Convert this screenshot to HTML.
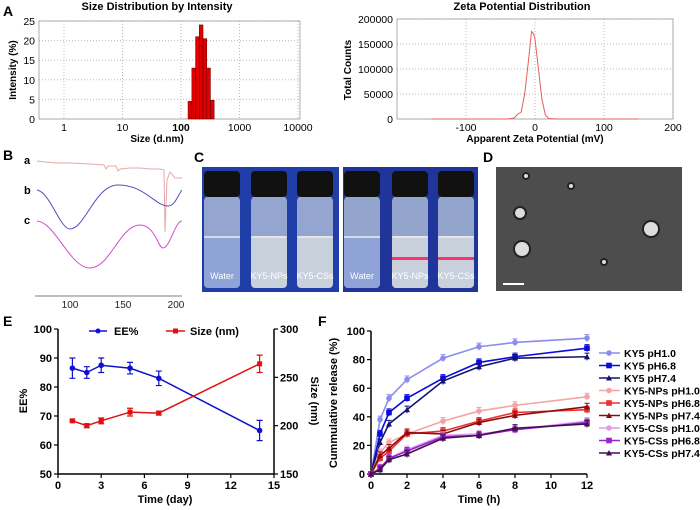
<!DOCTYPE html>
<html><head><meta charset="utf-8"><style>
body{margin:0;background:#fff}
svg{display:block;font-family:"Liberation Sans",Arial,sans-serif}
.b{font-weight:bold}
</style></head><body>
<svg id="fig" width="700" height="510" viewBox="0 0 700 510" xmlns="http://www.w3.org/2000/svg">
<g>
<text x="3" y="16" class="b" font-size="14">A</text>
<text x="157" y="10" class="b" font-size="11" text-anchor="middle">Size Distribution by Intensity</text>
<g id="sizeGrid"></g>
<rect x="39" y="21" width="261" height="98" fill="none" stroke="#999" stroke-width="0.8"/>
<g id="sizeBars"></g>
<text x="157" y="142" class="b" font-size="10" text-anchor="middle">Size (d.nm)</text>
<text transform="translate(16,70) rotate(-90)" class="b" font-size="10" text-anchor="middle">Intensity (%)</text>
</g>
<g>
<text x="522" y="10" class="b" font-size="11" text-anchor="middle">Zeta Potential Distribution</text>
<g id="zetaGrid"></g>
<rect x="397" y="19" width="276" height="100" fill="none" stroke="#999" stroke-width="0.8"/>
<path id="zetaLine" fill="none" stroke="#e06060" stroke-width="1"/>
<text x="535" y="142" class="b" font-size="10" text-anchor="middle">Apparent Zeta Potential (mV)</text>
<text transform="translate(351,70) rotate(-90)" class="b" font-size="10" text-anchor="middle">Total Counts</text>
</g>
<g>
<text x="3" y="160" class="b" font-size="14">B</text>
<text x="24" y="164" class="b" font-size="11">a</text>
<text x="24" y="194" class="b" font-size="11">b</text>
<text x="24" y="224" class="b" font-size="11">c</text>
<path d="M37,161 L55,163 L70,163 L90,164 L104,165 L106,169 L108,166 L116,166 L118,171 L120,169 L130,168 L140,168 L150,169 L160,169 L164,170 L165,232 L167,180 L170,172 L175,178 L182,178" fill="none" stroke="#e8a8a8" stroke-width="1"/>
<path d="M37,190 C50,192 60,229 70,229 C85,229 95,185 118,185 C145,185 155,206 168,206 C175,206 178,195 182,190" fill="none" stroke="#5050c0" stroke-width="1"/>
<path d="M37,221 C55,222 70,268 90,268 C110,268 120,225 140,225 C155,225 158,248 163,248 C170,248 175,221 182,221" fill="none" stroke="#d050d0" stroke-width="1"/>
<line x1="35" y1="296" x2="182" y2="296" stroke="#999" stroke-width="1.2"/>
<g font-size="10" text-anchor="middle" fill="#222">
<text x="70" y="308">100</text><text x="123" y="308">150</text><text x="176" y="308">200</text></g>
</g>
<g>
<text x="194" y="162" class="b" font-size="14">C</text>
<rect x="202" y="167" width="137" height="125" fill="#1f3ea8"/>
<rect x="343" y="167" width="135" height="125" fill="#20359a"/>
<g id="vials"></g>
</g>
<g>
<text x="483" y="162" class="b" font-size="14">D</text>
<rect x="496" y="167" width="186" height="124" fill="#4d4d4d"/>
<g fill="#ddd" stroke="#222" stroke-width="2">
<circle cx="520" cy="213" r="6"/><circle cx="522" cy="249" r="8"/><circle cx="651" cy="229" r="8"/>
<circle cx="526" cy="176" r="3"/><circle cx="571" cy="186" r="3"/><circle cx="604" cy="262" r="3"/></g>
<line x1="503" y1="284" x2="524" y2="284" stroke="#fff" stroke-width="2"/>
</g>
<g>
<text x="3" y="326" class="b" font-size="14">E</text>
<g id="eChart"></g>
<text x="165" y="503" class="b" font-size="11" text-anchor="middle">Time (day)</text>
<text transform="translate(27,401) rotate(-90)" class="b" font-size="11" text-anchor="middle">EE%</text>
<text transform="translate(311,401) rotate(90)" class="b" font-size="11" text-anchor="middle">Size (nm)</text>
</g>
<g>
<text x="318" y="326" class="b" font-size="14">F</text>
<g id="fChart"></g>
<text x="479" y="503" class="b" font-size="11" text-anchor="middle">Time (h)</text>
<text transform="translate(337,403) rotate(-90)" class="b" font-size="11" text-anchor="middle">Cummulative release (%)</text>
</g>
</svg>
<script>
const NS="http://www.w3.org/2000/svg";
const sizeBins=[142,165,191,221,256,296,343];
const sizeIntensity=[4.5,13,21,24,20.5,13,4.8];
const sizeTicks=[1,10,100,1000,10000];
const sizeYTicks=[0,5,10,15,20,25];
const zetaX=[-150,-40,-30,-25,-20,-15,-10,-5,-2,0,5,10,15,20,30,150];
const zetaY=[0,0,2000,10000,14000,50000,110000,175000,170000,160000,100000,40000,8000,1000,0,0];
const zetaTicks=[-100,0,100,200];
const zetaYTicks=[0,50000,100000,150000,200000];
const eDays=[1,2,3,5,7,14];
const eeVals=[86.5,85,87.5,86.5,83,65];
const eeErr=[3.5,2,2.5,2,2.5,3.5];
const sizeNm=[205,200,205,214,213,264];
const sizeErr=[1,2,3,4,2,9];
const eXTicks=[0,3,6,9,12,15];
const eYTicks=[50,60,70,80,90,100];
const eY2Ticks=[150,200,250,300];
const fTimes=[0,0.5,1,2,4,6,8,12];
const fNames=["KY5 pH1.0","KY5 pH6.8","KY5 pH7.4","KY5-NPs pH1.0","KY5-NPs pH6.8","KY5-NPs pH7.4","KY5-CSs pH1.0","KY5-CSs pH6.8","KY5-CSs pH7.4"];
const fKY5a=[0,38,53,66,81,89,92,95];
const fKY5b=[0,28,43,53,67,78,82,88];
const fKY5c=[0,22,35,45,65,75,81,82];
const fNPa=[0,15,22,28,37,44,48,54];
const fNPb=[0,11,16,28,30,37,43,45];
const fNPc=[0,13,18,29,28,36,41,47];
const fCSa=[0,4,11,17,27,28,31,37];
const fCSb=[0,4,11,16,26,27,31,36];
const fCSc=[0,3,10,14,25,27,32,35];
const fXTicks=[0,2,4,6,8,10,12];
const fYTicks=[0,20,40,60,80,100];

function mk(tag,attrs,parent){const e=document.createElementNS(NS,tag);for(const k in attrs)e.setAttribute(k,attrs[k]);if(parent)parent.appendChild(e);return e;}
function txt(s,attrs,parent){const e=mk("text",attrs,parent);e.textContent=s;return e;}

(function(){
const g=document.getElementById("sizeGrid"),bg=document.getElementById("sizeBars");
const x=v=>64+Math.log10(v)*58.5, y=v=>119-v*98/25;
sizeTicks.forEach(t=>{mk("line",{x1:x(t),x2:x(t),y1:21,y2:119,stroke:"#bbb","stroke-dasharray":"1,2"},g);
 const l=txt(String(t),{x:x(t),y:131,"font-size":10.5,"text-anchor":"middle","font-weight":t===100?"bold":"normal"},g);
 });
sizeYTicks.forEach(t=>{mk("line",{x1:39,x2:300,y1:y(t),y2:y(t),stroke:"#bbb","stroke-dasharray":"1,2"},g);
 const l=txt(String(t),{x:35,y:y(t)+4,"font-size":10.5,"text-anchor":"end"},g);
 });
const hw=0.032;
sizeBins.forEach((b,i)=>{const lb=Math.log10(b);const x0=64+(lb-hw)*58.5,x1=64+(lb+hw)*58.5;
 const r=mk("rect",{x:x0,y:y(sizeIntensity[i]),width:x1-x0,height:119-y(sizeIntensity[i]),fill:"#e00000",stroke:"#600","stroke-width":0.5},bg);
 });
})();
(function(){
const g=document.getElementById("zetaGrid");
const x=v=>535+v*0.69, y=v=>119-v*100/200000;
zetaTicks.forEach(t=>{mk("line",{x1:x(t),x2:x(t),y1:19,y2:119,stroke:"#bbb","stroke-dasharray":"1,2"},g);
 const l=txt(String(t),{x:x(t),y:131,"font-size":10.5,"text-anchor":"middle"},g);
 });
zetaYTicks.forEach(t=>{mk("line",{x1:397,x2:673,y1:y(t),y2:y(t),stroke:"#bbb","stroke-dasharray":"1,2"},g);
 const l=txt(String(t),{x:393,y:y(t)+4,"font-size":10.5,"text-anchor":"end"},g);
 });
document.getElementById("zetaLine").setAttribute("d",zetaX.map((v,i)=>(i?"L":"M")+x(v)+","+y(zetaY[i])).join(" "));
})();
(function(){
const g=document.getElementById("vials");
const centers=[222,269,315,362,410,456],labels=["Water","KY5-NPs","KY5-CSs","Water","KY5-NPs","KY5-CSs"];
centers.forEach((c,i)=>{
 mk("rect",{x:c-18,y:196,width:36,height:92,rx:5,fill:"#a9b9d6",opacity:0.85},g);
 mk("rect",{x:c-18,y:236,width:36,height:52,rx:4,fill:i%3?"#c8d0dc":"#8fa3d8"},g);
 mk("line",{x1:c-18,x2:c+18,y1:237,y2:237,stroke:"#eee","stroke-width":1.5},g);
 mk("rect",{x:c-18,y:171,width:36,height:26,rx:4,fill:"#111"},g);
 if(i>=4) mk("rect",{x:c-18,y:257,width:36,height:3,fill:"#ff3070"},g);
 const l=txt(labels[i],{x:c,y:279,"font-size":9,fill:"#fff","text-anchor":"middle"},g);
 });
})();
(function(){
const g=document.getElementById("eChart");
const L=58,R=274,T=329,B=474;
const x=v=>L+v*(R-L)/15, y=v=>B-(v-50)*(B-T)/50, y2=v=>B-(v-150)*(B-T)/150;
mk("line",{x1:L,x2:L,y1:T,y2:B,stroke:"#000","stroke-width":1.5},g);
mk("line",{x1:R,x2:R,y1:T,y2:B,stroke:"#000","stroke-width":1.5},g);
mk("line",{x1:L,x2:R,y1:B,y2:B,stroke:"#000","stroke-width":1.5},g);
eXTicks.forEach(t=>{mk("line",{x1:x(t),x2:x(t),y1:B,y2:B+4,stroke:"#000","stroke-width":1.2},g);
 const l=txt(String(t),{x:x(t),y:B+15,"font-size":11,"font-weight":"bold","text-anchor":"middle"},g);
 });
eYTicks.forEach(t=>{mk("line",{x1:L-4,x2:L,y1:y(t),y2:y(t),stroke:"#000","stroke-width":1.2},g);
 const l=txt(String(t),{x:L-6,y:y(t)+4,"font-size":11,"font-weight":"bold","text-anchor":"end"},g);
 });
eY2Ticks.forEach(t=>{mk("line",{x1:R,x2:R+4,y1:y2(t),y2:y2(t),stroke:"#000","stroke-width":1.2},g);
 const l=txt(String(t),{x:R+6,y:y2(t)+4,"font-size":11,"font-weight":"bold"},g);
 });
function series(vals,err,sc,col,name,sq){
 const p=mk("path",{d:eDays.map((d,i)=>(i?"L":"M")+x(d)+","+sc(vals[i])).join(" "),fill:"none",stroke:col,"stroke-width":1.5},g);
 
 eDays.forEach((d,i)=>{const cx=x(d),hi=sc(vals[i]+err[i]),lo=sc(vals[i]-err[i]);
  mk("path",{d:`M${cx},${hi}V${lo}M${cx-3},${hi}H${cx+3}M${cx-3},${lo}H${cx+3}`,stroke:col,"stroke-width":1.2,fill:"none"},g);
  const m=sq?mk("rect",{x:cx-2.5,y:sc(vals[i])-2.5,width:5,height:5,fill:col},g):mk("circle",{cx:cx,cy:sc(vals[i]),r:2.8,fill:col},g);
  });
}
series(eeVals,eeErr,y,"#1010d0","ee",false);
series(sizeNm,sizeErr,y2,"#e01010","size",true);
mk("line",{x1:89,x2:107,y1:331,y2:331,stroke:"#1010d0","stroke-width":1.5},g);mk("circle",{cx:98,cy:331,r:2.5,fill:"#1010d0"},g);
const le=txt("EE%",{x:114,y:335,"font-size":11,"font-weight":"bold"},g);

mk("line",{x1:166,x2:185,y1:331,y2:331,stroke:"#e01010","stroke-width":1.5},g);mk("rect",{x:173,y:328.5,width:5,height:5,fill:"#e01010"},g);
const ls=txt("Size (nm)",{x:190,y:335,"font-size":11,"font-weight":"bold"},g);

})();
(function(){
const g=document.getElementById("fChart");
const L=371,R=587,T=331,B=474;
const x=v=>L+v*(R-L)/12, y=v=>B-v*(B-T)/100;
mk("line",{x1:L,x2:L,y1:T,y2:B,stroke:"#000","stroke-width":1.5},g);
mk("line",{x1:L,x2:R,y1:B,y2:B,stroke:"#000","stroke-width":1.5},g);
fXTicks.forEach(t=>{mk("line",{x1:x(t),x2:x(t),y1:B,y2:B+4,stroke:"#000","stroke-width":1.2},g);
 const l=txt(String(t),{x:x(t),y:B+15,"font-size":11,"font-weight":"bold","text-anchor":"middle"},g);
 });
fYTicks.forEach(t=>{mk("line",{x1:L-4,x2:L,y1:y(t),y2:y(t),stroke:"#000","stroke-width":1.2},g);
 const l=txt(String(t),{x:L-6,y:y(t)+4,"font-size":11,"font-weight":"bold","text-anchor":"end"},g);
 });
const all=[fKY5a,fKY5b,fKY5c,fNPa,fNPb,fNPc,fCSa,fCSb,fCSc];
const cols=["#8c8cf0","#0a0ae0","#14146e","#f4a4a4","#ee3030","#8c0a0a","#dc9cf0","#9a22cc","#40104e"];
const shp=["c","s","t","c","s","t","c","s","t"];
function marker(cx,cy,s,col){
 if(s==="c")return mk("circle",{cx:cx,cy:cy,r:2.8,fill:col},g);
 if(s==="s")return mk("rect",{x:cx-2.8,y:cy-2.8,width:5.6,height:5.6,fill:col},g);
 return mk("path",{d:`M${cx},${cy-3}L${cx+3},${cy+2.5}L${cx-3},${cy+2.5}Z`,fill:col},g);}
all.forEach((vals,k)=>{
 const p=mk("path",{d:fTimes.map((t,i)=>(i?"L":"M")+x(t)+","+y(vals[i])).join(" "),fill:"none",stroke:cols[k],"stroke-width":1.6},g);
 
 fTimes.forEach((t,i)=>{const cx=x(t),e=i?2.5:0;
  if(e)mk("path",{d:`M${cx},${y(vals[i]+e)}V${y(vals[i]-e)}M${cx-2.5},${y(vals[i]+e)}H${cx+2.5}`,stroke:cols[k],"stroke-width":1,fill:"none"},g);
  const m=marker(cx,y(vals[i]),shp[k],cols[k]);
  });
 const ly=353+k*12.5;
 mk("line",{x1:599,x2:620,y1:ly,y2:ly,stroke:cols[k],"stroke-width":1.6},g);
 marker(609,ly,shp[k],cols[k]);
 const l=txt(fNames[k],{x:624,y:ly+4,"font-size":10.5,"font-weight":"bold"},g);
 });
})();
</script>
</body></html>
